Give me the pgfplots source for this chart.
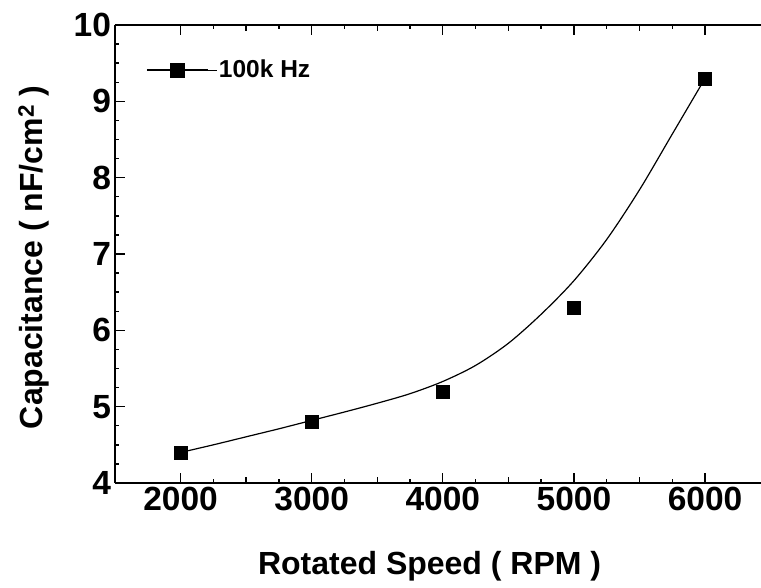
\documentclass[border=0pt]{standalone}
\usepackage{pgfplots}
\pgfplotsset{compat=1.18}
\usepackage{fontspec}
\setmainfont{Liberation Sans}
\begin{document}
\begin{tikzpicture}
\begin{axis}[
  scale only axis, width=646pt, height=458pt,
  xmin=1500, xmax=6427, ymin=4, ymax=10,
  axis y line*=left,
  y axis line style={-},
  axis line style={line width=2.6pt},
  xtick={2000,3000,4000,5000,6000},
  ytick={4,5,6,7,8,9,10},
  minor x tick num=3, minor y tick num=3,
  extra x ticks={2500,3500,4500,5500},
  extra x tick labels={},
  extra x tick style={major tick length=6pt},
  tick align=inside,
  major tick length=10pt, minor tick length=4pt,
  tick style={line width=1.4pt, black},
  /pgf/number format/assume math mode=true,
  /pgf/number format/1000 sep={},
  ticklabel style={font=\bfseries\fontsize{33.5}{38}\selectfont},
  xticklabel style={yshift=-0.5pt},
  yticklabel style={xshift=-0.5pt},
  xlabel={Rotated Speed ( RPM )},
  ylabel={Capacitance ( nF/cm\textsuperscript{2} )},
  every axis x label/.style={at={(axis description cs:0.487,0)}, anchor=base, yshift=-92pt,
    font=\bfseries\fontsize{32}{36}\selectfont},
  every axis y label/.style={at={(axis description cs:0,0.493)}, xshift=-72pt, rotate=90, anchor=base,
    font=\bfseries\fontsize{32}{36}\selectfont},
  legend style={draw=none, fill=none, at={(axis description cs:0,1)}, anchor=north west,
    xshift=28pt, yshift=-31pt, font=\bfseries\fontsize{24.5}{28}\selectfont},
  legend image code/.code={
    \path (0pt,0pt) -- (70pt,0pt);
    \draw[line width=1.2pt] (0pt,0pt) -- (61pt,0pt);
    \draw[mark=square*, mark size=7pt, mark options={fill=black, draw=black}] plot coordinates {(30.5pt,0pt)};
  },
]
\coordinate (O) at (rel axis cs:0,0);
\addplot[smooth, line width=1.2pt, black, forget plot] coordinates {
  (2000,4.40) (2250,4.50) (2500,4.605) (2750,4.71) (3000,4.82) (3250,4.93)
  (3500,5.045) (3750,5.17) (4000,5.33) (4250,5.54) (4500,5.83) (4750,6.21)
  (5000,6.65) (5250,7.19) (5500,7.84) (5750,8.57) (6000,9.30)
};
\addplot[only marks, mark=square*, mark size=6.5pt, mark options={fill=black, draw=black}] coordinates {
  (2000,4.4) (3000,4.8) (4000,5.2) (5000,6.3) (6000,9.3)
};
\addlegendentry{100k Hz}
\end{axis}
\pgfresetboundingbox
\useasboundingbox ([xshift=-115pt, yshift=-105pt]O) rectangle ([xshift=646pt, yshift=483pt]O);
\end{tikzpicture}
\end{document}
